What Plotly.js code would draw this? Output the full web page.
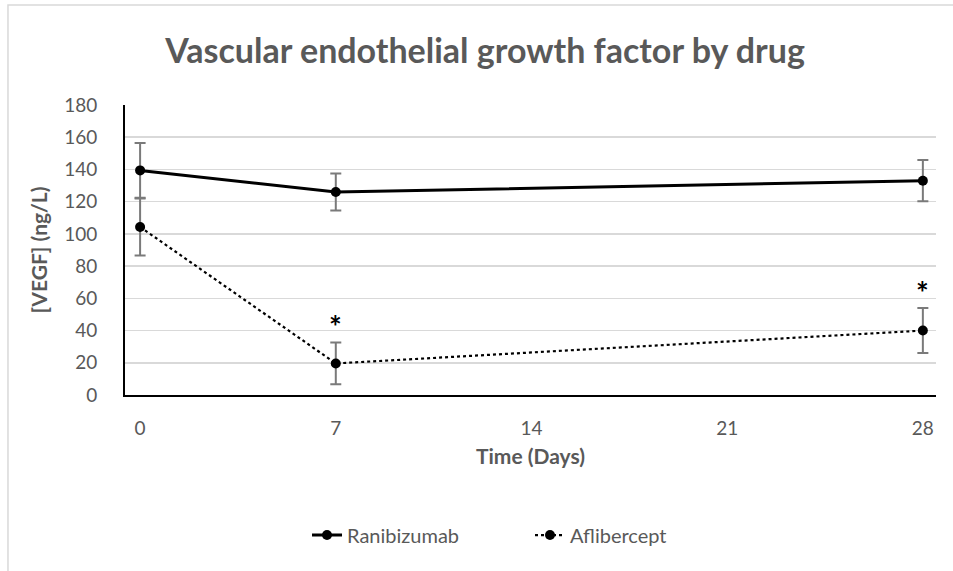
<!DOCTYPE html>
<html>
<head>
<meta charset="utf-8">
<script src="https://cdn.plot.ly/plotly-3.0.1.min.js"></script>
<style>html,body{margin:0;padding:0;background:#fff;}#chart{width:953px;height:571px;}</style>
</head>
<body>
<div id="chart"></div>
<script>
const days = [0, 7, 28];
const ranibizumab = [139.4, 126, 133];
const ranibizumabErr = [17, 11.5, 12.8];
const aflibercept = [104.3, 19.6, 40];
const afliberceptErr = [17.7, 13, 14];
const starDays = [7, 28];
const starValues = [47, 68];
const xTicks = [0, 7, 14, 21, 28];

const FONT = 'Lato, "Open Sans", sans-serif';
const GREY = '#595959';

const traces = [
  {
    x: days, y: ranibizumab, name: 'Ranibizumab', type: 'scatter', mode: 'lines+markers',
    line: {color: '#000', width: 3},
    marker: {color: '#000', size: 10},
    error_y: {type: 'data', array: ranibizumabErr, visible: true, color: '#7a7a7a', thickness: 2, width: 5.5}
  },
  {
    x: days, y: aflibercept, name: 'Aflibercept', type: 'scatter', mode: 'lines+markers',
    line: {color: '#000', width: 2.2, dash: 'dot'},
    marker: {color: '#000', size: 10},
    error_y: {type: 'data', array: afliberceptErr, visible: true, color: '#7a7a7a', thickness: 2, width: 5.5}
  }
];

const annotations = starDays.map((d, i) => ({
  x: d, y: starValues[i], xref: 'x', yref: 'y', text: '<b>*</b>', showarrow: false, yshift: -7,
  font: {family: FONT, size: 30, color: '#000'}
}));

const layout = {
  width: 953, height: 571,
  margin: {l: 125, r: 17, t: 105, b: 176},
  paper_bgcolor: '#fff', plot_bgcolor: '#fff',
  font: {family: FONT, color: GREY, size: 19},
  title: {text: '<b>Vascular endothelial growth factor by drug</b>', font: {family: FONT, size: 34, color: GREY},
          x: 0.509, xanchor: 'center', y: 0.911, yanchor: 'middle'},
  xaxis: {
    range: [-0.54, 28.47], tickvals: xTicks, ticktext: xTicks.map(String),
    showgrid: false, zeroline: false, showline: true, linecolor: '#000', linewidth: 2,
    ticks: '', ticklabelstandoff: 15,
    tickfont: {family: FONT, size: 19, color: GREY},
    title: {text: '<b>Time (Days)</b>', font: {family: FONT, size: 21, color: GREY}, standoff: 12}
  },
  yaxis: {
    range: [0, 180], dtick: 20, tick0: 0,
    showgrid: true, gridcolor: '#d9d9d9', gridwidth: 1.5, zeroline: false,
    showline: true, linecolor: '#000', linewidth: 2,
    ticks: '', ticklabelstandoff: 22,
    tickfont: {family: FONT, size: 19, color: GREY},
    title: {text: '<b>[VEGF] (ng/L)</b>', font: {family: FONT, size: 21, color: GREY}, standoff: 11}
  },
  showlegend: true,
  legend: {orientation: 'h', x: 0.4994, xanchor: 'center', y: -0.483, yanchor: 'middle',
           font: {family: FONT, size: 20, color: GREY}, bgcolor: 'rgba(0,0,0,0)', entrywidth: 178},
  annotations: annotations,
  shapes: [{type: 'rect', xref: 'paper', yref: 'paper', x0: -0.1443, x1: 1.2, y0: -0.7, y1: 1.345,
            line: {color: '#d9d9d9', width: 1.5}, fillcolor: 'rgba(0,0,0,0)', layer: 'below'}]
};

Plotly.newPlot('chart', traces, layout, {displayModeBar: false, staticPlot: true});
</script>
</body>
</html>
